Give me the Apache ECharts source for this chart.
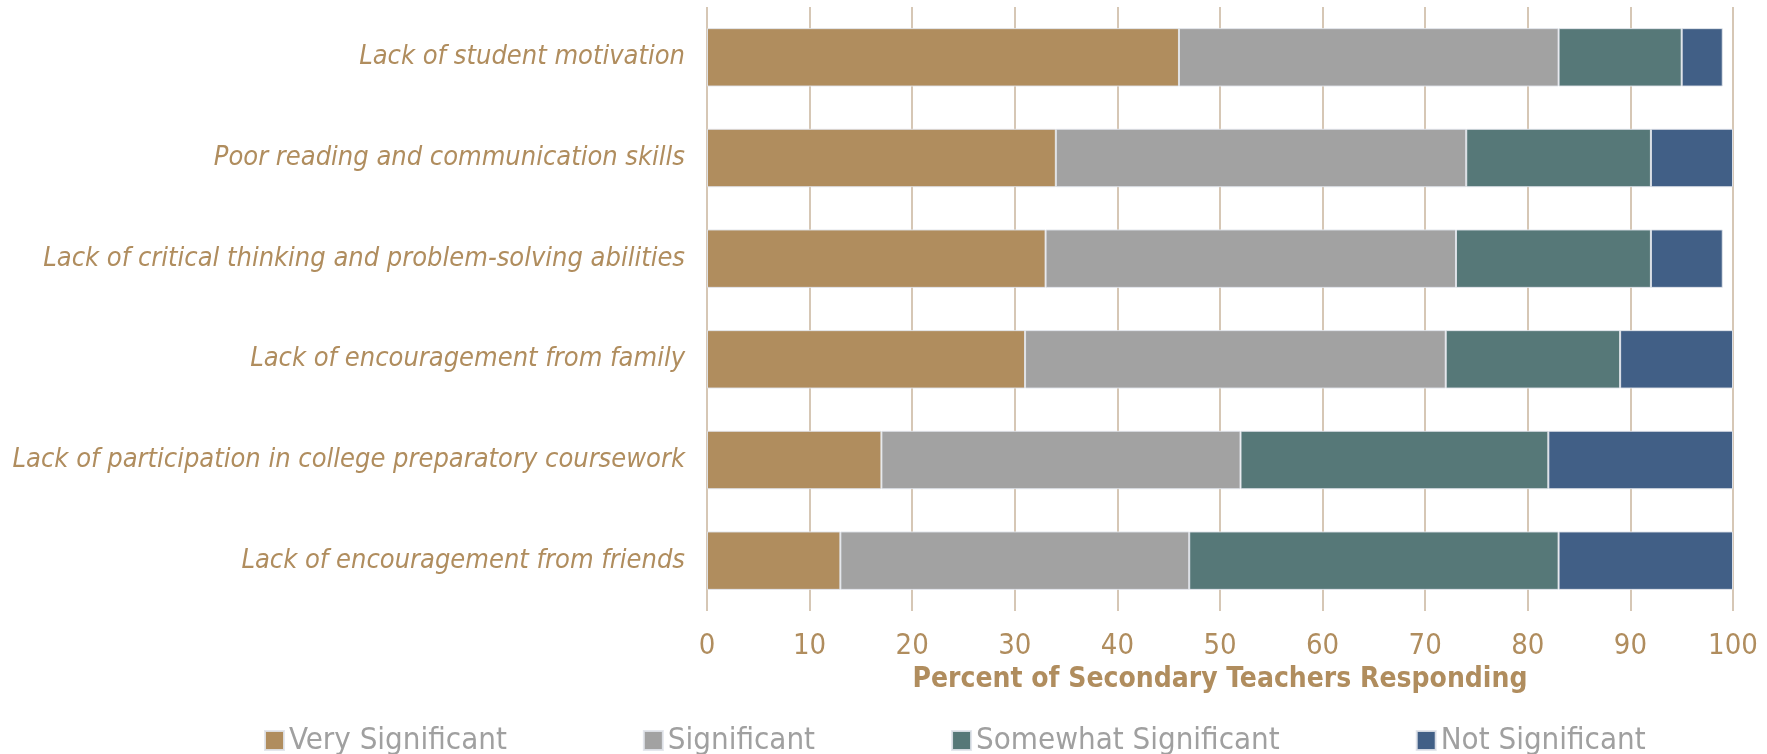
<!DOCTYPE html>
<html>
<head>
<meta charset="utf-8">
<script src="https://cdn.jsdelivr.net/npm/echarts@6/dist/echarts.min.js"></script>
<style>
  html, body { margin: 0; padding: 0; background: #fff; }
  #chart { width: 1767px; height: 754px; }
</style>
</head>
<body>
<div id="chart"></div>
<script>
// Barriers to college readiness, stacked percent bars
const categories = [
  "Lack of student motivation",
  "Poor reading and communication skills",
  "Lack of critical thinking and problem-solving abilities",
  "Lack of encouragement from family",
  "Lack of participation in college preparatory coursework",
  "Lack of encouragement from friends",
];
const seriesNames = ["Very Significant", "Significant", "Somewhat Significant", "Not Significant"];
const verySignificant = [46, 34, 33, 31, 17, 13];
const significant = [37, 40, 40, 41, 35, 34];
const somewhatSignificant = [12, 18, 19, 17, 30, 36];
const notSignificant = [4, 8, 7, 11, 18, 17];
const xTicks = [0, 10, 20, 30, 40, 50, 60, 70, 80, 90, 100];

const GOLD = "#B08D5E";
const COLORS = ["#B08D5E", "#A2A2A2", "#567878", "#415F86"];
const FONT = "'Liberation Sans Narrow', 'DejaVu Sans Condensed', sans-serif";

const values = [verySignificant, significant, somewhatSignificant, notSignificant];

const chart = echarts.init(document.getElementById("chart"), null, { renderer: "canvas" });

chart.setOption({
  animation: false,
  color: COLORS,
  textStyle: { fontFamily: FONT },
  grid: { left: 707, right: 34, top: 7, bottom: 143, containLabel: false },
  legend: {
    left: 259, top: 720,
    itemWidth: 19, itemHeight: 19, itemGap: 136,
    icon: "rect",
    textStyle: { color: "#A0A0A0", fontSize: 31, fontFamily: FONT },
    data: seriesNames,
  },
  xAxis: {
    type: "value",
    min: xTicks[0], max: xTicks[xTicks.length - 1], interval: 10,
    name: "Percent of Secondary Teachers Responding",
    nameLocation: "middle",
    nameGap: 54,
    nameTextStyle: { color: GOLD, fontSize: 28, fontWeight: "bold", fontFamily: FONT },
    axisLine: { show: false },
    axisTick: { show: false },
    axisLabel: { color: GOLD, fontSize: 29, margin: 21, fontFamily: FONT },
    splitLine: { lineStyle: { color: "#C9B59D", width: 1.5 } },
  },
  yAxis: {
    type: "category",
    inverse: true,
    data: categories,
    axisLine: { show: false },
    axisTick: { show: false },
    axisLabel: { color: GOLD, fontSize: 27, fontStyle: "italic", margin: 22, fontFamily: FONT },
  },
  series: seriesNames.map((name, i) => ({
    name,
    type: "bar",
    stack: "total",
    barWidth: "58%",
    data: values[i],
    itemStyle: { borderColor: "rgba(225,228,235,0.9)", borderWidth: 1 },
  })),
});
</script>
</body>
</html>
